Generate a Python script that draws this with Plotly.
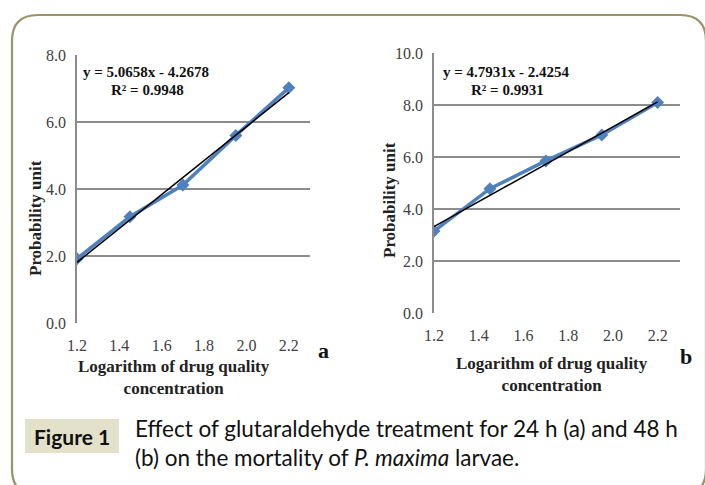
import plotly.graph_objects as go

W, H = 705, 485

# ---- data ----
log_conc = [1.2, 1.45, 1.7, 1.95, 2.2]
probit_24h = [1.92, 3.17, 4.12, 5.60, 7.02]
probit_48h = [3.15, 4.78, 5.85, 6.85, 8.10]
fit_24h = (5.0658, -4.2678)
fit_48h = (4.7931, -2.4254)
eq_24h = ["y = 5.0658x - 4.2678", "R² = 0.9948"]
eq_48h = ["y = 4.7931x - 2.4254", "R² = 0.9931"]
x_ticks = [1.2, 1.4, 1.6, 1.8, 2.0, 2.2]
y_ticks_a = [0, 2, 4, 6, 8]
y_ticks_b = [0, 2, 4, 6, 8, 10]
x_title = "Logarithm of drug quality<br>concentration"
y_title = "Probability unit"
caption_lines = ["Effect of glutaraldehyde treatment for 24 h (a) and 48 h",
                 "(b) on the mortality of <i>P. maxima</i> larvae."]


def px(x):
    return x / W


def py(y):
    return 1 - y / H


BLUE = "#4F81BD"
GRID = "#8c8c8c"
SERIF = "Liberation Serif"
SANS = "Lato"

fig = go.Figure()

for data, fit, xa, ya in [(probit_24h, fit_24h, "x", "y"), (probit_48h, fit_48h, "x2", "y2")]:
    fig.add_trace(go.Scatter(
        x=log_conc, y=data, mode="lines+markers", xaxis=xa, yaxis=ya,
        line=dict(color=BLUE, width=3.5),
        marker=dict(symbol="diamond", size=10, color=BLUE),
        showlegend=False, hoverinfo="skip"))
    xs = [log_conc[0], log_conc[-1]]
    fig.add_trace(go.Scatter(
        x=xs, y=[fit[0] * v + fit[1] for v in xs], mode="lines", xaxis=xa, yaxis=ya,
        line=dict(color="black", width=1.5), showlegend=False, hoverinfo="skip"))

common_x = dict(range=[1.2, 2.3], tickvals=x_ticks, tickformat=".1f", automargin=False,
                showgrid=False, zeroline=False, showline=False,
                ticks="outside", ticklen=8, tickcolor="rgba(0,0,0,0)",
                tickfont=dict(family=SERIF, size=16, color="#404040"))
common_y = dict(tickformat=".1f", showgrid=True, gridcolor=GRID, gridwidth=1.5, automargin=False,
                zeroline=False, showline=True, linecolor=GRID, linewidth=1.5,
                ticks="outside", ticklen=6, tickcolor="rgba(0,0,0,0)",
                tickfont=dict(family=SERIF, size=16, color="#404040"))

fig.update_layout(
    width=W, height=H,
    margin=dict(l=0, r=0, t=0, b=0),
    paper_bgcolor="white", plot_bgcolor="white",
    xaxis=dict(domain=[px(77), px(310)], anchor="y", **common_x),
    yaxis=dict(domain=[py(323), py(55)], range=[0, 8.0001], tickvals=y_ticks_a,
               anchor="x", **common_y),
    xaxis2=dict(domain=[px(434), px(680)], anchor="y2", **common_x),
    yaxis2=dict(domain=[py(313), py(53)], range=[0, 10.0001], tickvals=y_ticks_b,
                anchor="x2", **common_y),
)

shapes = []
# rounded frame
r = 26
L, T, R, B = 12, 15, 706, 495
path = (f"M {px(L)},{py(T + r)} Q {px(L)},{py(T)} {px(L + r)},{py(T)} "
        f"L {px(R - r)},{py(T)} Q {px(R)},{py(T)} {px(R)},{py(T + r)} "
        f"L {px(R)},{py(B - r)} Q {px(R)},{py(B)} {px(R - r)},{py(B)} "
        f"L {px(L + r)},{py(B)} Q {px(L)},{py(B)} {px(L)},{py(B - r)} Z")
shapes.append(dict(type="path", xref="paper", yref="paper", path=path,
                   line=dict(color="#9C9266", width=2.2), fillcolor="rgba(0,0,0,0)",
                   layer="below"))
# Figure 1 label box
shapes.append(dict(type="rect", xref="paper", yref="paper",
                   x0=px(25), x1=px(119), y0=py(453), y1=py(419),
                   fillcolor="#E4E1CB", line=dict(width=0), layer="below"))
fig.update_layout(shapes=shapes)

ann = []
# equations
for eq, x0, y0 in [(eq_24h, 81, 72), (eq_48h, 441, 72)]:
    ann.append(dict(text=f"<b>{eq[0]}</b>", x=px(x0), y=py(y0), xref="paper", yref="paper",
                    xanchor="left", yanchor="middle", showarrow=False,
                    font=dict(family=SERIF, size=15, color="#111")))
    ann.append(dict(text=f"<b>{eq[1]}</b>", x=px(x0 + 28), y=py(y0 + 18), xref="paper",
                    yref="paper", xanchor="left", yanchor="middle", showarrow=False,
                    font=dict(family=SERIF, size=15, color="#111")))
# axis titles
for xc, yc in [(174, 377), (552, 374)]:
    ann.append(dict(text=f"<b>{x_title}</b>", x=px(xc), y=py(yc), xref="paper", yref="paper",
                    xanchor="center", yanchor="middle", showarrow=False,
                    font=dict(family=SERIF, size=17, color="#222")))
for xc, yc in [(36, 218), (389, 200)]:
    ann.append(dict(text=f"<b>{y_title}</b>", x=px(xc), y=py(yc), xref="paper", yref="paper",
                    xanchor="center", yanchor="middle", showarrow=False, textangle=-90,
                    font=dict(family=SERIF, size=17, color="#222")))
# panel letters
for t, xc, yc in [("a", 323, 350), ("b", 686, 356)]:
    ann.append(dict(text=f"<b>{t}</b>", x=px(xc), y=py(yc), xref="paper", yref="paper",
                    xanchor="center", yanchor="middle", showarrow=False,
                    font=dict(family=SERIF, size=22, color="#111")))
# caption
ann.append(dict(text="<b>Figure 1</b>", x=px(72), y=py(436), xref="paper", yref="paper",
                xanchor="center", yanchor="middle", showarrow=False,
                font=dict(family=SANS, size=21, color="#111")))
for line, yc in zip(caption_lines, [428, 457]):
    ann.append(dict(text=line, x=px(133), y=py(yc), xref="paper", yref="paper",
                    xanchor="left", yanchor="middle", align="left", showarrow=False,
                    font=dict(family=SANS, size=22.5, color="#111")))
fig.update_layout(annotations=ann)

fig.write_html("out.html", config={"displayModeBar": False})

# remove default page margin so the figure sits at the window origin
with open("out.html", encoding="utf-8") as f:
    html = f.read()
html = html.replace("<head>", "<head><style>html,body{margin:0;padding:0;overflow:hidden;}</style>", 1)
with open("out.html", "w", encoding="utf-8") as f:
    f.write(html)
